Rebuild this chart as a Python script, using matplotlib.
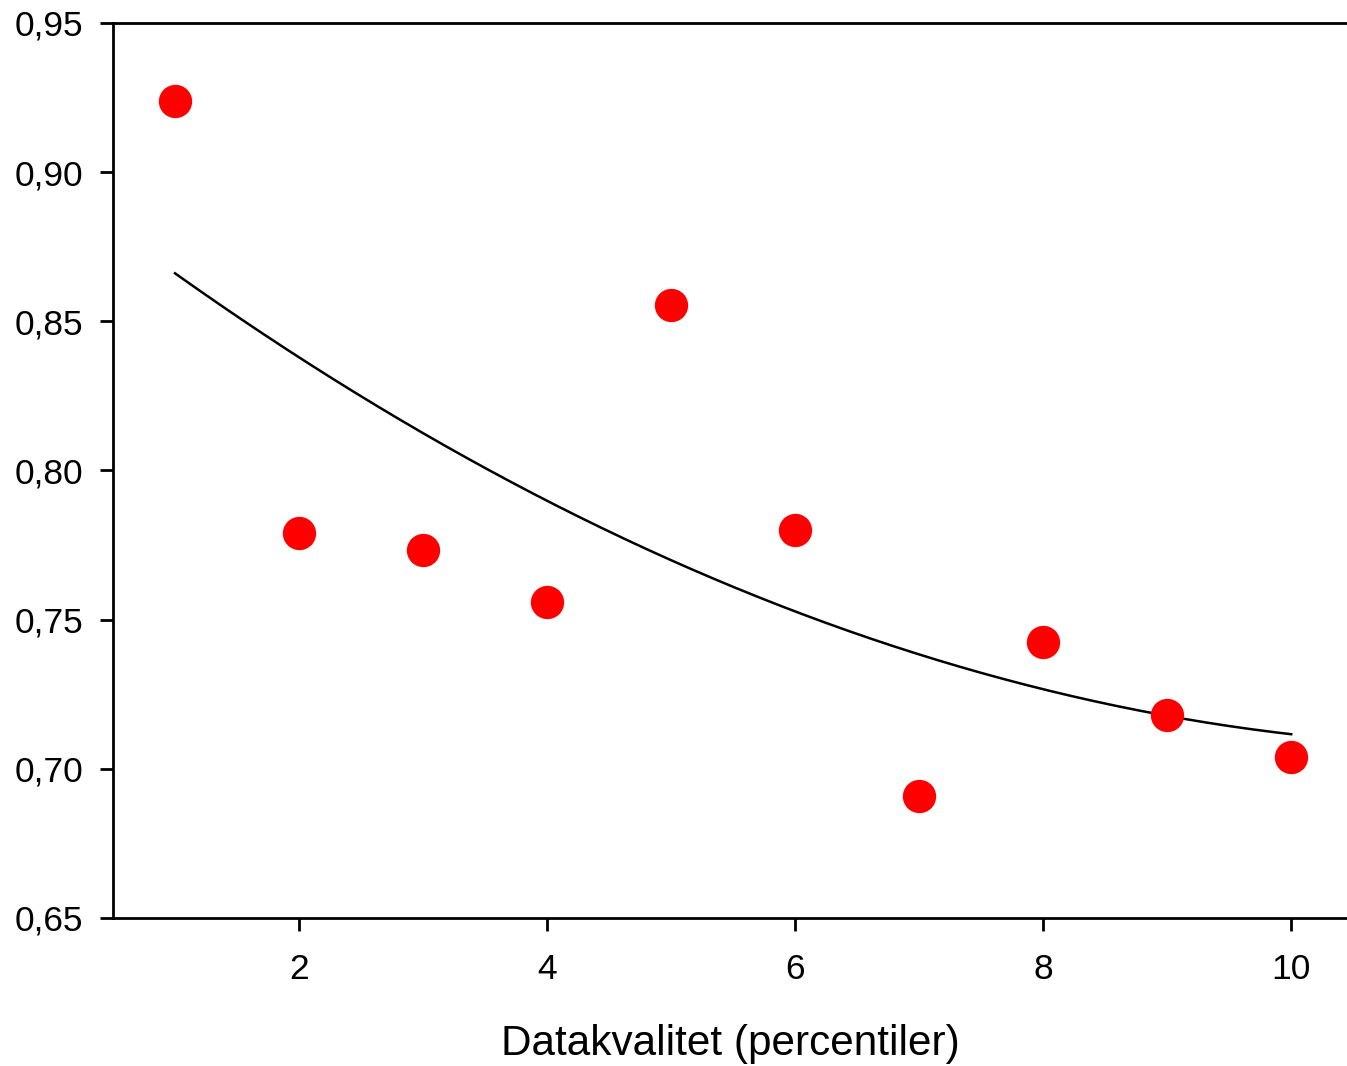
import numpy as np
import matplotlib
matplotlib.use("Agg")
import matplotlib.pyplot as plt
from matplotlib.ticker import FuncFormatter

plt.rcParams['font.family'] = ['Liberation Sans', 'DejaVu Sans']

x_vals = [1, 2, 3, 4, 5, 6, 7, 8, 9, 10]
y_vals = [0.924, 0.779, 0.7735, 0.756, 0.8555, 0.780, 0.691, 0.7425, 0.718, 0.704]
x_ticks = [2, 4, 6, 8, 10]
y_ticks = [0.65, 0.70, 0.75, 0.80, 0.85, 0.90, 0.95]
x_label = "Datakvalitet (percentiler)"

fig = plt.figure(figsize=(13.47, 10.66), dpi=100)
ax = fig.add_axes([113/1347, 1-918/1066, (1347-113)/1347, (918-23)/1066])

# quadratic trend fitted to the data
coef = np.polyfit(x_vals, y_vals, 2)
xs = np.linspace(min(x_vals), max(x_vals), 200)
ax.plot(xs, np.polyval(coef, xs), color='black', lw=1.8, zorder=2)

ax.plot(x_vals, y_vals, 'o', color='#ff0000', markersize=24, markeredgewidth=0, zorder=3)

ax.set_xlim(0.5, 10.45)
ax.set_ylim(0.65, 0.95)
ax.set_xticks(x_ticks)
ax.set_yticks(y_ticks)
ax.yaxis.set_major_formatter(FuncFormatter(lambda v, p: f"{v:.2f}".replace('.', ',')))
ax.tick_params(direction='out', length=9.5, width=2.0, labelsize=25.5)
ax.tick_params(axis='y', pad=12)
ax.tick_params(axis='x', pad=16)
for s in ['left', 'bottom', 'top']:
    ax.spines[s].set_linewidth(2.0)
ax.spines['right'].set_visible(False)
ax.set_xlabel(x_label, fontsize=30.4, labelpad=27)

fig.savefig("out.png", dpi=100)
